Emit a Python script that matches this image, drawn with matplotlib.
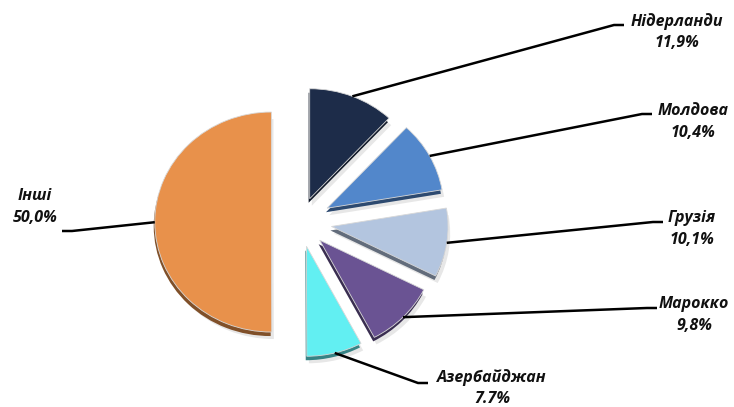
import numpy as np
import matplotlib.pyplot as plt
import matplotlib.patches as mpatches
from matplotlib.colors import to_rgb

# data
countries = ['Нідерланди', 'Молдова', 'Грузія', 'Марокко', 'Азербайджан', 'Інші']
shares = [11.9, 10.4, 10.1, 9.8, 7.7, 50.0]
pct_labels = ['11,9%', '10,4%', '10,1%', '9,8%', '7.7%', '50,0%']

# style
colors = ['#1d2c49', '#5287cb', '#b3c5df', '#6a5393', '#62eff2', '#e8914b']
explode = [25, 29, 30, 26, 25, 27]
W, H = 734, 407
XS = 1.06  # slight horizontal stretch of the pie (3D look)
pie_center = (300 / XS, H - 222)
radius = 110

# label anchor (kink) in pixel coords and text centre
label_kinks = [(614, 25), (642, 114), (653, 222), (647, 308), (418, 383), (72, 231)]
text_pos = [(677, 32), (693, 122), (692, 229), (694, 315), (492, 388), (35, 207)]

plt.rcParams['font.family'] = ['Open Sans', 'DejaVu Sans']

fig = plt.figure(figsize=(W / 100, H / 100), dpi=100)
ax = fig.add_axes([0, 0, 1, 1])

wedges, _ = ax.pie(shares, explode=explode, colors=colors, startangle=90,
                   counterclock=False, radius=radius, center=pie_center,
                   frame=True, wedgeprops=dict(linewidth=0.6, edgecolor='#d8d8d8'))
ax.set_xlim(0, W / XS)
ax.set_ylim(0, H)
ax.set_aspect('auto')
ax.axis('off')

for w, c in zip(wedges, colors):
    w.set_zorder(3)
    # darker "thickness" under each slice
    dark = tuple(np.array(to_rgb(c)) * 0.55)
    side = mpatches.Wedge((w.center[0] - 1, w.center[1] - 4), w.r, w.theta1, w.theta2,
                          facecolor=dark, edgecolor='none', zorder=2)
    ax.add_patch(side)
    shadow = mpatches.Wedge((w.center[0] + 2, w.center[1] - 7), w.r, w.theta1, w.theta2,
                            facecolor='#bbbbbb', edgecolor='none', alpha=0.35, zorder=1)
    ax.add_patch(shadow)

for w, name, pct, kink, tp in zip(wedges, countries, pct_labels, label_kinks, text_pos):
    mid = np.deg2rad((w.theta1 + w.theta2) / 2)
    sx = w.center[0] + w.r * np.cos(mid)
    sy = w.center[1] + w.r * np.sin(mid)
    kx, ky = kink[0] / XS, H - kink[1]
    ex = kx + 10 / XS if tp[0] / XS > sx else kx - 10 / XS
    ax.plot([sx, kx, ex], [sy, ky, ky], color='black', lw=1.8, zorder=4,
            solid_capstyle='butt')
    ax.text(tp[0] / XS, H - tp[1], name + '\n' + pct, ha='center', va='center',
            fontsize=11.5, fontweight='bold', fontstyle='italic', linespacing=1.45,
            color='#111111', zorder=5)

fig.savefig('out.png', dpi=100)
